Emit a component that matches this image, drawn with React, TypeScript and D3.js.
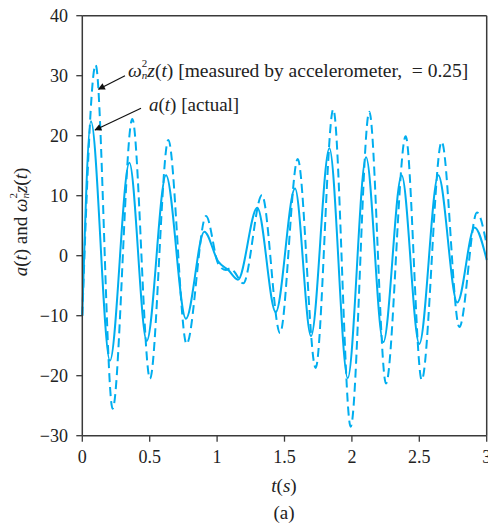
import React from "react";
import * as d3 from "d3";

const tActual = [0, 0.064, 0.205, 0.349, 0.478, 0.621, 0.769, 0.905, 1.009, 1.083, 1.155, 1.298, 1.435, 1.578, 1.697, 1.833, 1.969, 2.105, 2.233, 2.369, 2.5, 2.641, 2.782, 2.91, 3.0];
const aActual = [-10, 22.4, -17.5, 15.5, -14.2, 13.4, -10.5, 4.0, -1.0, -2.4, -4.0, 8.0, -9.4, 11.2, -13.4, 17.9, -20.4, 16.4, -14.4, 13.4, -14.7, 13.4, -7.8, 4.7, -0.7];

// Measured wn^2 z(t)
const tMeasured = [0, 0.099, 0.225, 0.371, 0.502, 0.638, 0.774, 0.918, 1.009, 1.035, 1.065, 1.1, 1.125, 1.194, 1.333, 1.467, 1.598, 1.731, 1.862, 1.991, 2.129, 2.253, 2.399, 2.518, 2.666, 2.797, 2.928, 3.0];
const zMeasured = [-10, 31.8, -25.5, 22.8, -20.5, 19.3, -14.7, 6.6, -1.4, -2.1, -2.4, -2.1, -2.6, -4.6, 10.1, -12.9, 16.1, -18.7, 24.4, -28.5, 24.0, -21.3, 19.9, -20.7, 19.0, -11.9, 7.2, 1.8];

const xTicks = [0, 0.5, 1, 1.5, 2, 2.5, 3];
const xTickLabels = ["0", "0.5", "1", "1.5", "2", "2.5", "3"];
const yTicks = [40, 30, 20, 10, 0, -10, -20, -30];

const W = 488;
const H = 525;
const left = 82.3;
const right = 486.7;
const top = 15.7;
const bottom = 435.7;
const COLOR = "#00aeef";
const AXIS = "#3a3a3a";
const FONT = '"Liberation Serif"';

export default function App() {
  const x = d3.scaleLinear().domain([0, 3]).range([left, right]);
  const y = d3.scaleLinear().domain([-30, 40]).range([bottom, top]);

  const line = d3
    .line<[number, number]>()
    .x((d) => x(d[0]))
    .y((d) => y(d[1]))
    .curve(d3.curveMonotoneX);

  const actualPath = line(tActual.map((t, i) => [t, aActual[i]]) as [number, number][]) || "";
  const measuredPath = line(tMeasured.map((t, i) => [t, zMeasured[i]]) as [number, number][]) || "";

  const fmt = (v: number) => (v < 0 ? "\u2212" + Math.abs(v) : String(v));
  const ts = { fontFamily: FONT, fontSize: "18px", fill: "#222" } as React.CSSProperties;
  const ls = { fontFamily: FONT, fontSize: "19px", fill: "#222" } as React.CSSProperties;
  const an = { fontFamily: FONT, fontSize: "19.5px", fill: "#222" } as React.CSSProperties;

  return (
    <svg width={W} height={H} style={{ position: "absolute", left: 0, top: 0, background: "#fff" }}>
      <defs>
        <marker id="arr" viewBox="0 0 10 10" refX="9" refY="5" markerWidth="9" markerHeight="7" orient="auto" markerUnits="userSpaceOnUse">
          <path d="M0,0 L10,5 L0,10 Z" fill="#111" />
        </marker>
      </defs>

      {/* data lines */}
      <path d={measuredPath} fill="none" stroke={COLOR} strokeWidth={2} strokeDasharray="9,5" />
      <path d={actualPath} fill="none" stroke={COLOR} strokeWidth={2} />

      {/* frame */}
      <line x1={left} x2={right} y1={top} y2={top} stroke={AXIS} strokeWidth={1.5} />
      <line x1={right} x2={right} y1={top} y2={bottom} stroke={AXIS} strokeWidth={1.5} />
      <line x1={left} x2={left} y1={top} y2={bottom} stroke={AXIS} strokeWidth={1.5} />
      <line x1={left} x2={right} y1={bottom} y2={bottom} stroke={AXIS} strokeWidth={1.5} />

      {/* y ticks */}
      {yTicks.map((v) => (
        <g key={"y" + v}>
          <line x1={left - 6} x2={left} y1={y(v)} y2={y(v)} stroke={AXIS} strokeWidth={1.3} />
          <text x={68} y={y(v)} dy="0.33em" textAnchor="end" style={ts}>
            {fmt(v)}
          </text>
        </g>
      ))}

      {/* x ticks */}
      {xTicks.map((v, i) => (
        <g key={"x" + v}>
          <line x1={x(v)} x2={x(v)} y1={bottom} y2={bottom + 6} stroke={AXIS} strokeWidth={1.3} />
          <text x={x(v)} y={463} textAnchor="middle" style={ts}>
            {xTickLabels[i]}
          </text>
        </g>
      ))}

      {/* x label */}
      <text x={284} y={492} textAnchor="middle" style={ls}>
        <tspan fontStyle="italic">t</tspan>(<tspan fontStyle="italic">s</tspan>)
      </text>
      <text x={284} y={519} textAnchor="middle" style={ls}>
        (a)
      </text>

      {/* y label */}
      <text transform={`translate(27,222) rotate(-90)`} textAnchor="middle" style={ls}>
        <tspan fontStyle="italic">a</tspan>(<tspan fontStyle="italic">t</tspan>) and{" "}
        <tspan fontStyle="italic">ω</tspan>
        <tspan fontSize={11} dy={-10}>2</tspan>
        <tspan fontSize={11} fontStyle="italic" dx={-5.5} dy={12}>n</tspan>
        <tspan fontStyle="italic" dy={-2}>z</tspan>(<tspan fontStyle="italic">t</tspan>)
      </text>

      {/* annotations */}
      <line x1={125} y1={75.7} x2={98.5} y2={89.3} stroke="#111" strokeWidth={1.2} markerEnd="url(#arr)" />
      <line x1={141} y1={108.3} x2={95} y2={130} stroke="#111" strokeWidth={1.2} markerEnd="url(#arr)" />

      <text x={128} y={77} style={an}>
        <tspan fontStyle="italic">ω</tspan>
        <tspan fontSize={11} dy={-10}>2</tspan>
        <tspan fontSize={11} fontStyle="italic" dx={-5.5} dy={12}>n</tspan>
        <tspan fontStyle="italic" dy={-2}>z</tspan>(<tspan fontStyle="italic">t</tspan>) [measured by accelerometer,{"\u2002"}= 0.25]
      </text>
      <text x={149} y={111} style={ls}>
        <tspan fontStyle="italic">a</tspan>(<tspan fontStyle="italic">t</tspan>) [actual]
      </text>
    </svg>
  );
}
